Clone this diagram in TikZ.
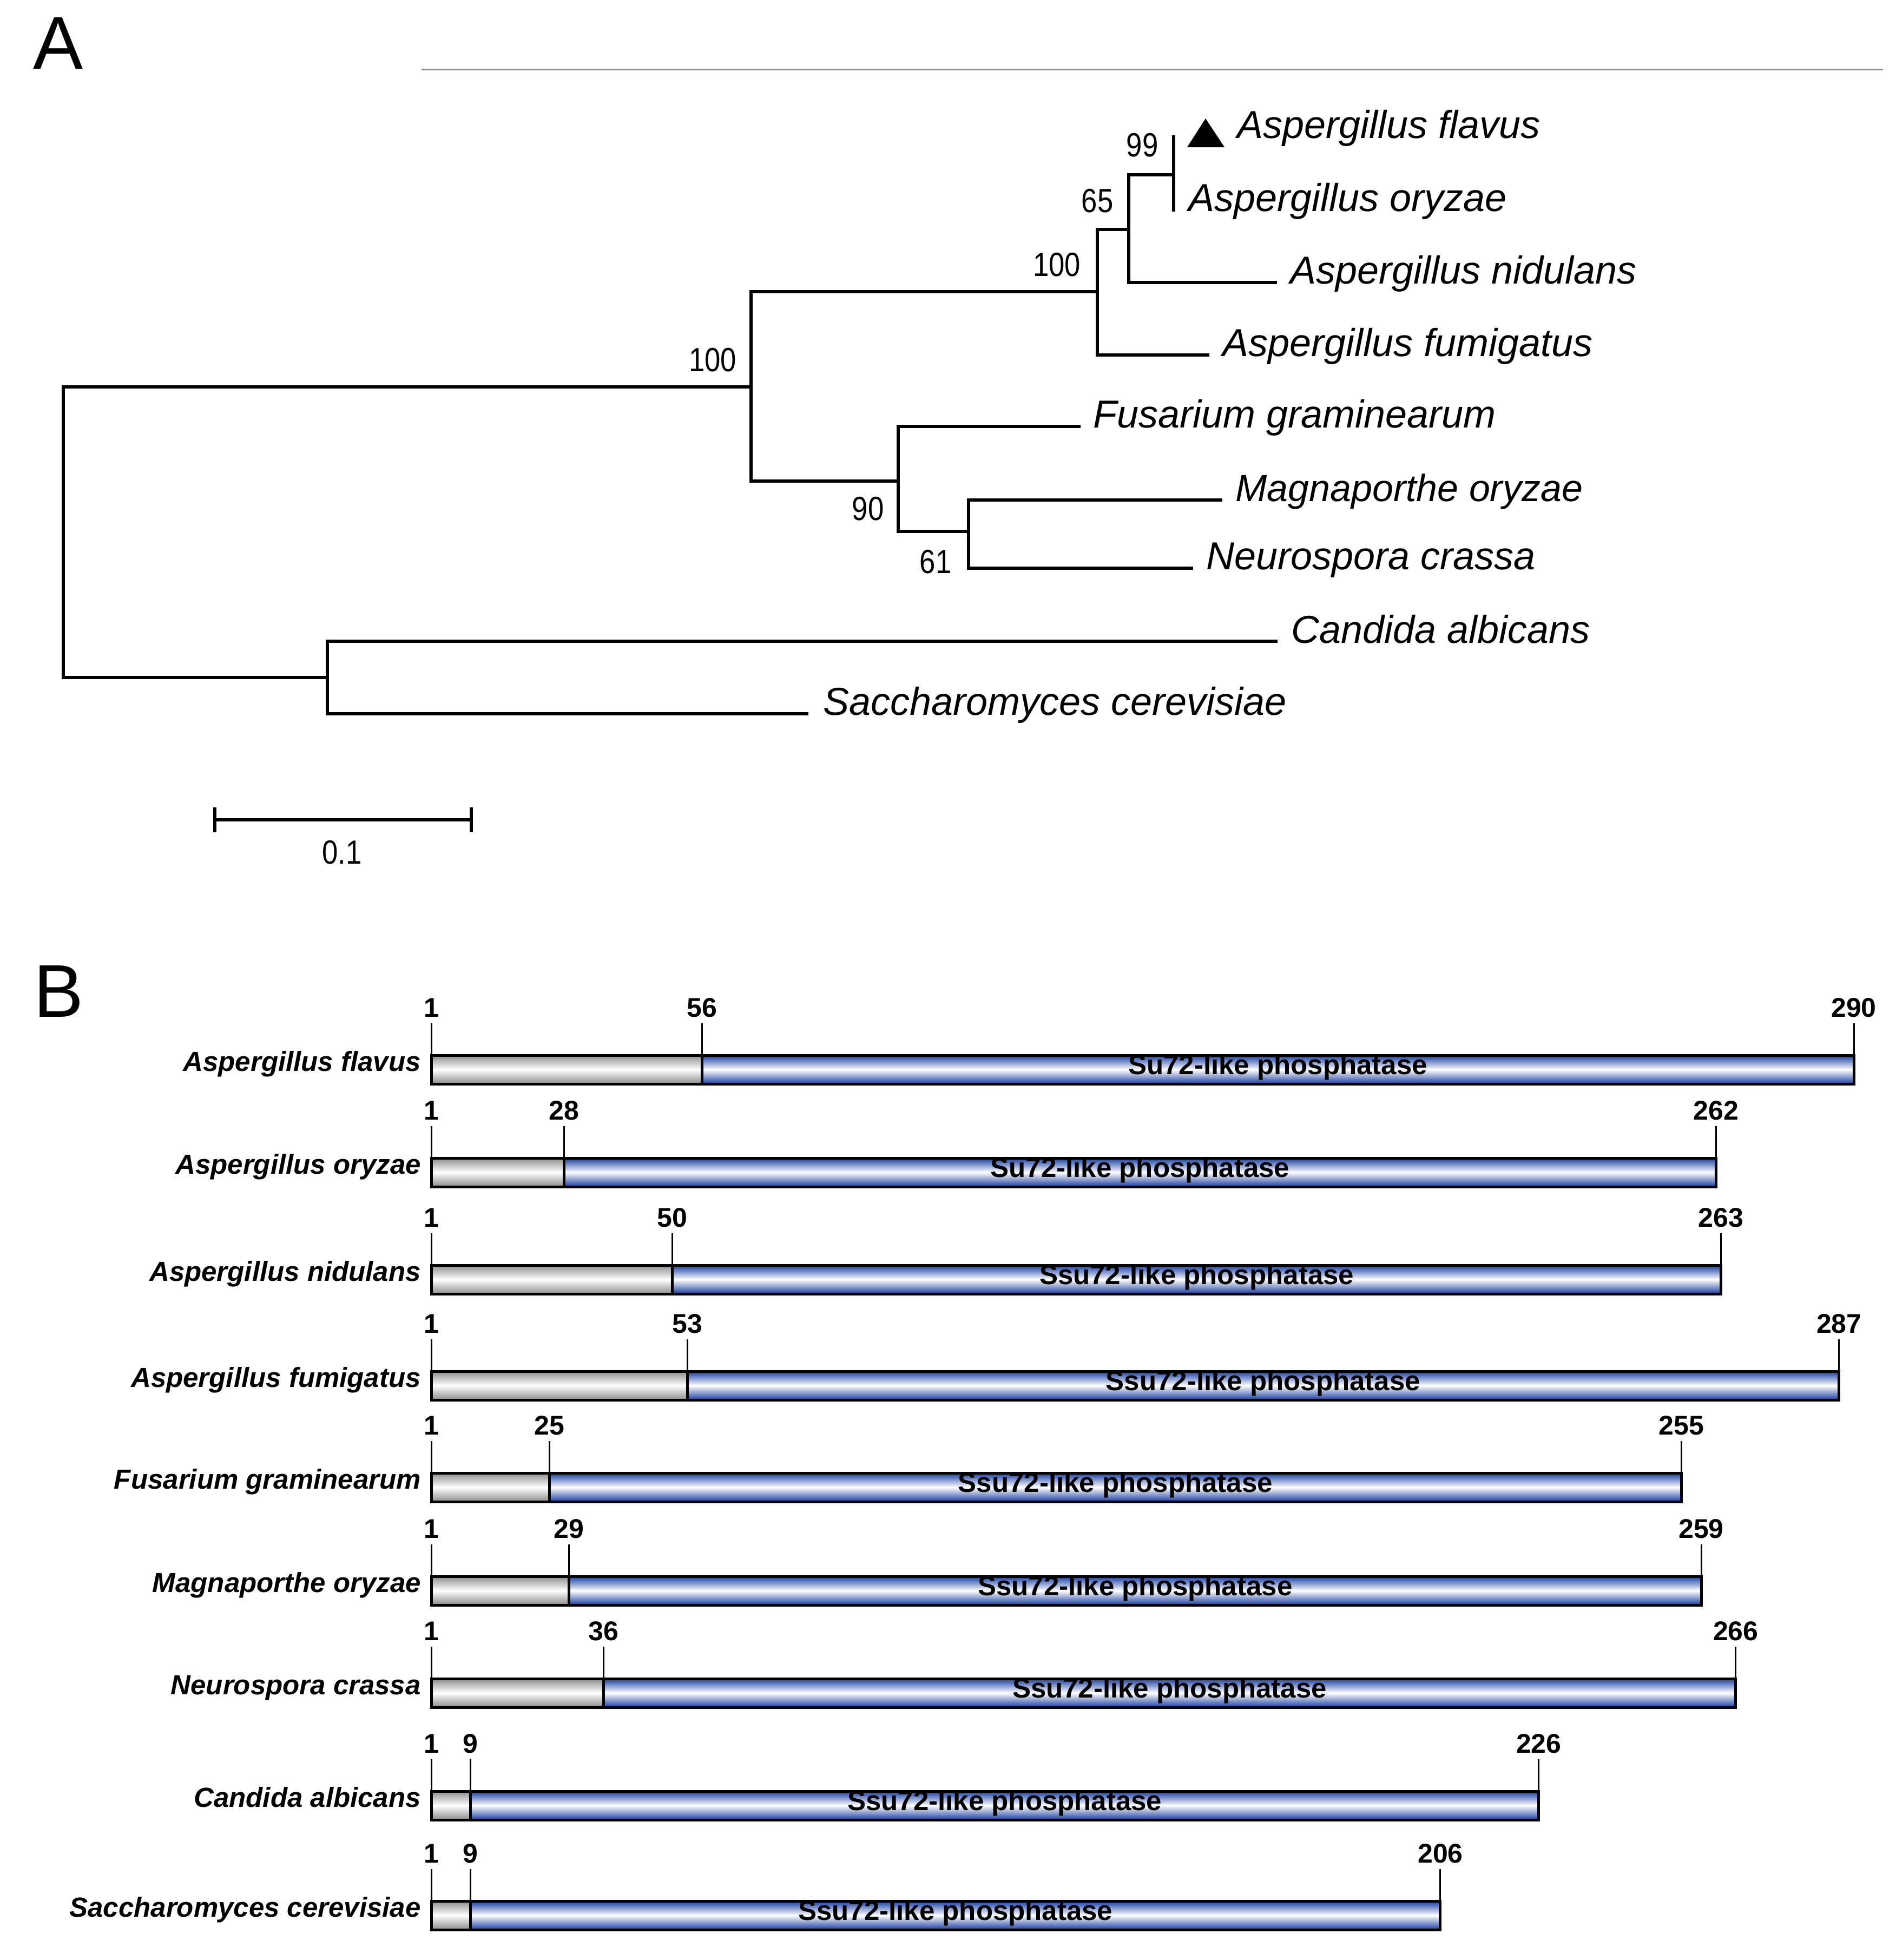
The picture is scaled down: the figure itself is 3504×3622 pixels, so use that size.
\documentclass[tikz,border=0pt]{standalone}
\usepackage{fontspec}
\setmainfont{Liberation Sans}
\definecolor{barblue}{RGB}{22,60,160}
\definecolor{bargray}{RGB}{140,140,140}
\definecolor{rulegray}{RGB}{140,140,140}
\begin{document}
\begin{tikzpicture}[x=1pt,y=-1pt,
  br/.style={line width=6pt,line cap=rect},
  sp/.style={anchor=mid west,font=\fontsize{72}{80}\selectfont\itshape,inner sep=0pt},
  bs/.style={font=\fontsize{62}{70}\selectfont,xscale=0.85,inner sep=0pt},
  lbl/.style={anchor=mid east,font=\fontsize{51}{58}\selectfont\bfseries\itshape,inner sep=0pt},
  num/.style={anchor=base,font=\fontsize{50}{56}\selectfont\bfseries,inner sep=0pt},
  dom/.style={font=\fontsize{51}{58}\selectfont\bfseries,inner sep=0pt,anchor=mid},
  tick/.style={line width=3pt},
  grayseg/.style={top color=bargray,bottom color=bargray,middle color=white,draw=black,line width=5pt},
  blueseg/.style={top color=barblue,bottom color=barblue,middle color=white,draw=black,line width=5pt}]
\useasboundingbox (0,0) rectangle (3504,3622);
% panel letters
\node[font=\fontsize{138}{150}\selectfont,inner sep=0pt] (A) at (108,80) {A};
\node[font=\fontsize{138}{150}\selectfont,inner sep=0pt] (B) at (109,1832) {B};
\coordinate (rl) at (779,128); \coordinate (rr) at (3480,128);
\draw[rulegray,line width=3pt] (rl) -- (rr);
% tree coordinates
\coordinate (root1) at (117,715); \coordinate (root2) at (117,1252);
\coordinate (n1a) at (1388,539); \coordinate (n1b) at (1388,889); \coordinate (n1m) at (1388,715);
\coordinate (n2a) at (2028,424); \coordinate (n2b) at (2028,656); \coordinate (n2m) at (2028,539);
\coordinate (n3a) at (2086,323); \coordinate (n3b) at (2086,522); \coordinate (n3m) at (2086,424);
\coordinate (n4a) at (2169,253); \coordinate (n4b) at (2169,388); \coordinate (n4m) at (2169,323);
\coordinate (n5a) at (1660,788); \coordinate (n5b) at (1660,982); \coordinate (n5m) at (1660,889);
\coordinate (n6a) at (1790,924); \coordinate (n6b) at (1790,1050); \coordinate (n6m) at (1790,982);
\coordinate (n7a) at (605,1185); \coordinate (n7b) at (605,1319); \coordinate (n7m) at (605,1252);
% leaves
\node[sp] (fla) at (2286,253) {Aspergillus flavus};
\node[sp] (ory) at (2196,388) {Aspergillus oryzae};
\node[sp] (nid) at (2384,522) {Aspergillus nidulans};
\node[sp] (fum) at (2259,656) {Aspergillus fumigatus};
\node[sp] (fus) at (2020,788) {Fusarium graminearum};
\node[sp,font=\fontsize{70}{78}\selectfont\itshape] (mag) at (2283,924) {Magnaporthe oryzae};
\node[sp] (neu) at (2229,1050) {Neurospora crassa};
\node[sp] (can) at (2386,1186) {Candida albicans};
\node[sp] (sac) at (1521,1319) {Saccharomyces cerevisiae};
\fill (2194,272) -- (2263,272) -- (2228,219) -- cycle;
% branches
\draw[br] (root1) -- (root2);
\draw[br] (root1) -- (n1m); \draw[br] (n1a) -- (n1b);
\draw[br] (n1a) -- (n2m); \draw[br] (n2a) -- (n2b);
\draw[br] (n2a) -- (n3m); \draw[br] (n3a) -- (n3b);
\draw[br] (n3a) -- (n4m); \draw[br] (n4a) -- (n4b);
\draw[br] (n3b) -- (2357,522);
\draw[br] (n2b) -- (2232,656);
\draw[br] (n1b) -- (n5m); \draw[br] (n5a) -- (n5b);
\draw[br] (n5a) -- (1994,788);
\draw[br] (n5b) -- (n6m); \draw[br] (n6a) -- (n6b);
\draw[br] (n6a) -- (2256,924);
\draw[br] (n6b) -- (2202,1050);
\draw[br] (root2) -- (n7m); \draw[br] (n7a) -- (n7b);
\draw[br] (n7a) -- (2358,1185);
\draw[br] (n7b) -- (1491,1319);
% bootstrap
\node[bs] (b99) at (2111,268) {99};
\node[bs] (b65) at (2028,371) {65};
\node[bs] (b100a) at (1953,489) {100};
\node[bs] (b100b) at (1317,665) {100};
\node[bs] (b90) at (1604,940) {90};
\node[bs] (b61) at (1729,1038) {61};
% scale bar
\coordinate (s1) at (397,1515); \coordinate (s2) at (871,1515);
\draw[br,line cap=butt] (s1) -- (s2);
\draw[line width=6pt] (397,1492) -- (397,1538) (871,1492) -- (871,1538);
\node[bs] (sc) at (632,1575) {0.1};
% part B
\foreach \nm/\len/\sp/\dn/\yt [count=\i] in {
  Aspergillus flavus/290/56/Su72/1950,
  Aspergillus oryzae/262/28/Su72/2140,
  Aspergillus nidulans/263/50/Ssu72/2338,
  Aspergillus fumigatus/287/53/Ssu72/2534,
  Fusarium graminearum/255/25/Ssu72/2722,
  Magnaporthe oryzae/259/29/Ssu72/2913,
  Neurospora crassa/266/36/Ssu72/3102,
  Candida albicans/226/9/Ssu72/3310,
  Saccharomyces cerevisiae/206/9/Ssu72/3513}{
  \pgfmathsetmacro\xs{797+(\sp-1)*9.097}
  \pgfmathsetmacro\xe{797+(\len-1)*9.097}
  \pgfmathsetmacro\yb{\yt+53}
  \pgfmathsetmacro\yc{\yt+26.5}
  \pgfmathsetmacro\ytk{\yt-59}
  \pgfmathsetmacro\ynm{\yt-71}
  \pgfmathsetmacro\xm{(\xs+\xe)/2}
  \draw[tick] (797,\yt) -- (797,\ytk);
  \draw[tick] (\xs,\yt) -- (\xs,\ytk);
  \draw[tick] (\xe,\yt) -- (\xe,\ytk);
  \node[num] (one\i) at (797,\ynm) {1};
  \node[num] (sn\i) at (\xs,\ynm) {\sp};
  \node[num] (en\i) at (\xe,\ynm) {\len};
  \path[grayseg] (797,\yt) rectangle (\xs,\yb);
  \path[blueseg] (\xs,\yt) rectangle (\xe,\yb);
  \node[dom] (d\i) at (\xm,\yc+6) {\dn-like phosphatase};
  \node[lbl] (l\i) at (778,\yc) {\nm};
}
\end{tikzpicture}
\end{document}
